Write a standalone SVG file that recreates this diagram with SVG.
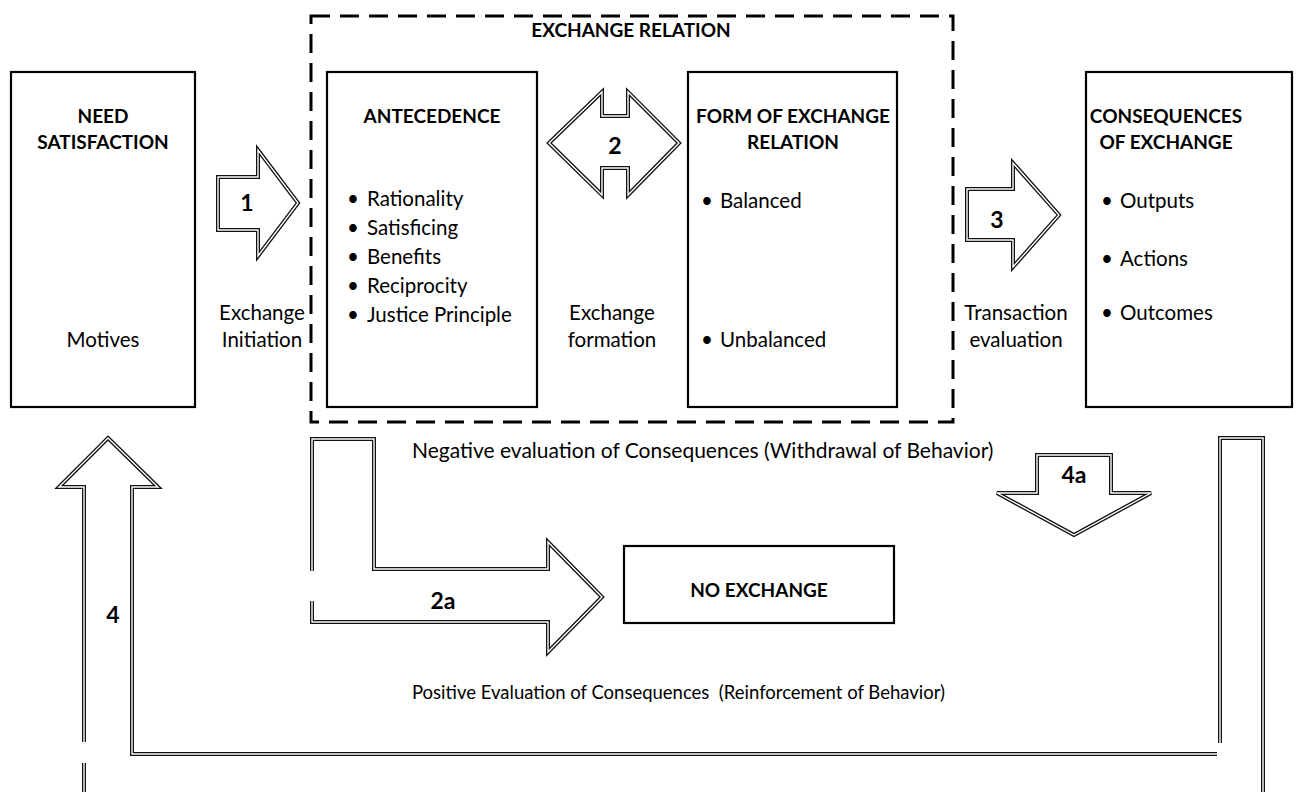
<svg xmlns="http://www.w3.org/2000/svg" width="1302" height="792" viewBox="0 0 1302 792">
  <style>
    .box { fill: #fff; stroke: #000; stroke-width: 2.2; }
    .group { fill: none; stroke: #000; stroke-width: 3; stroke-dasharray: 19 10; }
    .edge-out { fill: #fff; stroke: #111; stroke-width: 4; stroke-linejoin: miter; }
    .edge-in { fill: none; stroke: #fff; stroke-width: 1.4; stroke-linejoin: miter; }
    text { font-family: Lato, "Liberation Sans", Arial, sans-serif; fill: #000; }
    .head { font-size: 19px; font-weight: bold; text-anchor: middle; }
    .body { font-size: 20.5px; }
    .mid { text-anchor: middle; }
    .num { font-size: 23px; font-weight: bold; text-anchor: middle; }
  </style>
  <defs>
    <polygon id="a1" points="218,177 258,177 258,150 298,203 258,256 258,230 218,230"/>
    <polygon id="a2" points="549,143 602,92 602,116 628,116 628,92 679,143 628,195 628,168 602,168 602,195"/>
    <polygon id="a3" points="967,189 1013,189 1013,163 1059,215 1013,267 1013,240 967,240"/>
    <polygon id="a4" points="108,438 158,487 132,487 132,754 1220,754 1220,438 1263,438 1263,800 84,800 84,487 59,487"/>
    <polygon id="a4a" points="1037,455 1111,455 1111,493 1151,493 1074,535 997,493 1037,493"/>
    <polygon id="a2a" points="312,439 374,439 374,569 548,569 548,542 602,597 548,652 548,622 312,622"/>
  </defs>

  <!-- dashed frame around the exchange relation -->
  <g id="exchange-relation">
    <rect class="group" x="311" y="16" width="642" height="406"/>
    <text class="head" x="631" y="37">EXCHANGE RELATION</text>
  </g>

  <!-- block arrows -->
  <g id="connectors">
    <use href="#a4" class="edge-out"/><use href="#a4" class="edge-in"/>
    <use href="#a1" class="edge-out"/><use href="#a1" class="edge-in"/>
    <use href="#a2" class="edge-out"/><use href="#a2" class="edge-in"/>
    <use href="#a3" class="edge-out"/><use href="#a3" class="edge-in"/>
    <use href="#a4a" class="edge-out"/><use href="#a4a" class="edge-in"/>
    <use href="#a2a" class="edge-out"/><use href="#a2a" class="edge-in"/>
    <!-- small breaks where the bent shapes meet -->
    <rect x="81" y="742" width="7" height="21" fill="#fff"/>
    <rect x="1217" y="743" width="6" height="27" fill="#fff"/>
    <rect x="309" y="571" width="7" height="30" fill="#fff"/>
    <text class="num" x="247" y="211">1</text>
    <text class="num" x="615" y="154">2</text>
    <text class="num" x="997" y="228">3</text>
    <text class="num" x="113" y="623">4</text>
    <text class="num" x="1074" y="483">4a</text>
    <text class="num" x="443" y="609">2a</text>
  </g>

  <g id="need-satisfaction">
    <rect class="box" x="11" y="72" width="184" height="335"/>
    <text class="head" x="103" y="123">NEED</text>
    <text class="head" x="103" y="149">SATISFACTION</text>
    <text class="body mid" x="103" y="347">Motives</text>
  </g>

  <g id="antecedence">
    <rect class="box" x="327" y="72" width="210" height="335"/>
    <text class="head" x="432" y="123">ANTECEDENCE</text>
    <text class="body"><tspan x="347" y="206">•</tspan><tspan x="367" y="206">Rationality</tspan></text>
    <text class="body"><tspan x="347" y="235">•</tspan><tspan x="367" y="235">Satisficing</tspan></text>
    <text class="body"><tspan x="347" y="264">•</tspan><tspan x="367" y="264">Benefits</tspan></text>
    <text class="body"><tspan x="347" y="293">•</tspan><tspan x="367" y="293">Reciprocity</tspan></text>
    <text class="body"><tspan x="347" y="322">•</tspan><tspan x="367" y="322">Justice Principle</tspan></text>
  </g>

  <g id="form-of-exchange">
    <rect class="box" x="688" y="72" width="209" height="335"/>
    <text class="head" x="793" y="123">FORM OF EXCHANGE</text>
    <text class="head" x="793" y="149">RELATION</text>
    <text class="body"><tspan x="701" y="208">•</tspan><tspan x="720" y="208">Balanced</tspan></text>
    <text class="body"><tspan x="701" y="347">•</tspan><tspan x="720" y="347">Unbalanced</tspan></text>
  </g>

  <g id="consequences">
    <rect class="box" x="1086" y="72" width="206" height="335"/>
    <text class="head" x="1166" y="123">CONSEQUENCES</text>
    <text class="head" x="1166" y="149">OF EXCHANGE</text>
    <text class="body"><tspan x="1101" y="208">•</tspan><tspan x="1120" y="208">Outputs</tspan></text>
    <text class="body"><tspan x="1101" y="266">•</tspan><tspan x="1120" y="266">Actions</tspan></text>
    <text class="body"><tspan x="1101" y="320">•</tspan><tspan x="1120" y="320">Outcomes</tspan></text>
  </g>

  <g id="no-exchange">
    <rect class="box" x="624" y="546" width="270" height="77"/>
    <text class="head" x="759" y="597">NO EXCHANGE</text>
  </g>

  <!-- arrow captions -->
  <g id="captions">
    <text class="body mid" x="262" y="320">Exchange</text>
    <text class="body mid" x="262" y="347">Initiation</text>
    <text class="body mid" x="612" y="320">Exchange</text>
    <text class="body mid" x="612" y="347">formation</text>
    <text class="body mid" x="1016" y="320">Transaction</text>
    <text class="body mid" x="1016" y="347">evaluation</text>
    <text x="412" y="458" font-size="21">Negative evaluation of Consequences (Withdrawal of Behavior)</text>
    <text x="412" y="699" font-size="18.5" xml:space="preserve">Positive Evaluation of Consequences  (Reinforcement of Behavior)</text>
  </g>
</svg>
